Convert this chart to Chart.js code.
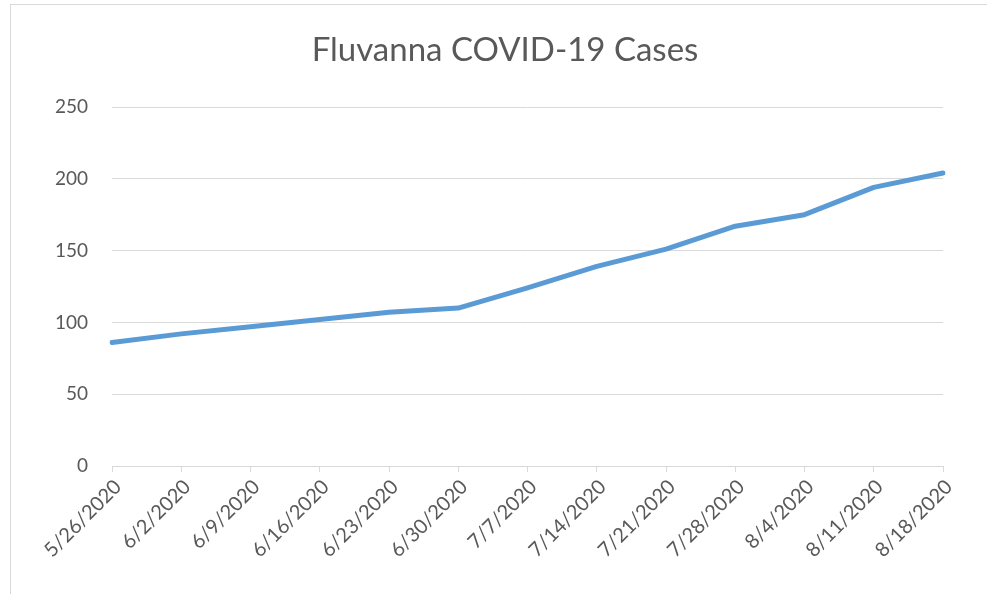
<!DOCTYPE html>
<html>
<head>
<meta charset="utf-8">
<script src="https://cdn.jsdelivr.net/npm/chart.js@4"></script>
<style>
    body { margin: 0; background: #fff; }
    #wrap { position: absolute; left: 0; top: 0; width: 987px; height: 594px; }
    #frame { position: absolute; left: 10px; top: 4px; width: 990px; height: 600px; border: 1px solid #d9d9d9; box-sizing: border-box; }
</style>
</head>
<body>
<div id="wrap">
    <div id="frame"></div>
    <canvas id="casesChart" width="987" height="594"></canvas>
</div>
<script>
// Weekly dates and cumulative case counts
const dates = ['5/26/2020', '6/2/2020', '6/9/2020', '6/16/2020', '6/23/2020', '6/30/2020',
    '7/7/2020', '7/14/2020', '7/21/2020', '7/28/2020', '8/4/2020', '8/11/2020', '8/18/2020'];
const cases = [86, 92, 97, 102, 107, 110, 124, 139, 151, 167, 175, 194, 204];
const yTicks = [0, 50, 100, 150, 200, 250];
const chartTitle = 'Fluvanna COVID-19 Cases';

const textColor = '#595959';
const gridColor = '#d9d9d9';

// Title drawn by hand: the built-in one is centred on the full width and sits too far left
const titlePlugin = {
    id: 'offsetTitle',
    afterDraw(chart) {
        const c = chart.ctx;
        c.save();
        c.fillStyle = textColor;
        c.font = 'normal 33px Lato';
        c.textAlign = 'center';
        c.textBaseline = 'middle';
        c.fillText(chartTitle, 505, 50);
        c.restore();
    }
};

const ctx = document.getElementById('casesChart');
new Chart(ctx, {
    type: 'line',
    data: {
        labels: dates,
        datasets: [{
            label: 'Cases',
            data: cases,
            borderColor: '#5b9bd5',
            borderWidth: 5,
            borderCapStyle: 'round',
            borderJoinStyle: 'round',
            pointRadius: 0,
            tension: 0,
            fill: false
        }]
    },
    plugins: [titlePlugin],
    options: {
        responsive: false,
        animation: false,
        layout: { padding: { left: 0, right: 44, top: 107, bottom: 0 } },
        plugins: {
            legend: { display: false },
            tooltip: { enabled: false },
            title: { display: false }
        },
        scales: {
            x: {
                offset: false,
                afterFit: s => { s.height = 128; },
                border: { display: true, color: gridColor, width: 1 },
                grid: { drawOnChartArea: false, drawTicks: true, tickLength: 6, color: gridColor },
                ticks: {
                    color: textColor,
                    font: { family: 'Lato', size: 20 },
                    minRotation: 45,
                    maxRotation: 45,
                    autoSkip: false,
                    labelOffset: 6,
                    padding: 3
                }
            },
            y: {
                min: 0,
                max: 250,
                afterFit: s => { s.width = 112; },
                afterBuildTicks: s => { s.ticks = yTicks.map(v => ({ value: v })); },
                border: { display: false },
                grid: { color: gridColor, lineWidth: 1, drawTicks: false },
                ticks: {
                    color: textColor,
                    font: { family: 'Lato', size: 19 },
                    padding: 24
                }
            }
        }
    }
});
</script>
</body>
</html>
